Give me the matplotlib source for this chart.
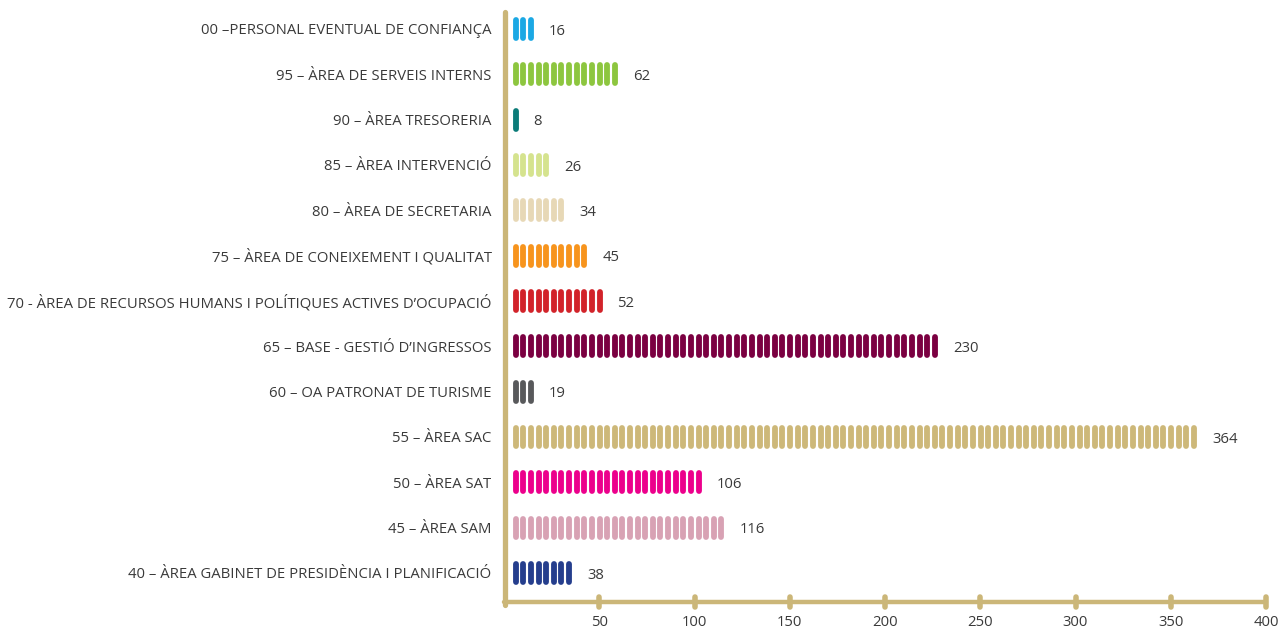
import matplotlib.pyplot as plt
from matplotlib.collections import LineCollection

# Dades: persones per àrea (de dalt a baix)
areas = [
    "00 –PERSONAL EVENTUAL DE CONFIANÇA",
    "95 – ÀREA DE SERVEIS INTERNS",
    "90 – ÀREA TRESORERIA",
    "85 – ÀREA INTERVENCIÓ",
    "80 – ÀREA DE SECRETARIA",
    "75 – ÀREA DE CONEIXEMENT I QUALITAT",
    "70 - ÀREA DE RECURSOS HUMANS I POLÍTIQUES ACTIVES D’OCUPACIÓ",
    "65 – BASE - GESTIÓ D’INGRESSOS",
    "60 – OA PATRONAT DE TURISME",
    "55 – ÀREA SAC",
    "50 – ÀREA SAT",
    "45 – ÀREA SAM",
    "40 – ÀREA GABINET DE PRESIDÈNCIA I PLANIFICACIÓ",
]
valors = [16, 62, 8, 26, 34, 45, 52, 230, 19, 364, 106, 116, 38]
colors = ["#1ba8e4", "#8dc63f", "#0b7b78", "#d5e38e", "#e7d8b6", "#f7941d",
          "#d2232a", "#7b0041", "#58595b", "#cdb879", "#ec008c", "#d8a2b4", "#253e8d"]
xticks = [50, 100, 150, 200, 250, 300, 350, 400]

axis_col = "#cbb678"
text_col = "#3a3a3a"

plt.rcParams['font.family'] = ['Open Sans', 'DejaVu Sans']

fig = plt.figure(figsize=(12.81, 6.32), dpi=100)
ax = fig.add_axes([504 / 1281, 1 - 602 / 632, 762 / 1281, 590 / 632])
ax.set_xlim(0, 400)
ax.set_ylim(-0.64, 12.375)

n = len(areas)
step = 4.0       # cada pastilla = 4 unitats
start = 4.7
pill_w = 2.9
half_h = 0.2

for i, (v, c) in enumerate(zip(valors, colors)):
    y = n - 1 - i
    k = max(1, int((v - 4) // step))
    xs = [start + pill_w / 2 + step * j for j in range(k)]
    segs = [[(x, y - half_h), (x, y + half_h)] for x in xs]
    lc = LineCollection(segs, colors=c, linewidths=4.2, capstyle='round')
    ax.add_collection(lc)
    ax.text(xs[-1] + pill_w / 2 + 8, y - 0.05, str(v), ha='left', va='center',
            fontsize=10.7, color=text_col)

# eixos dibuixats a mà
ax.plot([0, 400], [-0.64, -0.64], color=axis_col, lw=3.2, solid_capstyle='round', clip_on=False)
ax.plot([0.5, 0.5], [-0.7, 12.375], color=axis_col, lw=3.8, solid_capstyle='round', clip_on=False)
for t in xticks:
    ax.plot([t, t], [-0.74, -0.54], color=axis_col, lw=4, solid_capstyle='round', clip_on=False)

for s in ax.spines.values():
    s.set_visible(False)

ax.set_yticks(range(n))
ax.set_yticklabels(areas[::-1], fontsize=10.7, color=text_col)
ax.set_xticks(xticks)
ax.set_xticklabels([str(t) for t in xticks], fontsize=10.7, color=text_col)
ax.tick_params(axis='y', length=0, pad=9)
ax.tick_params(axis='x', length=0, pad=9)

fig.savefig("out.png", dpi=100)
